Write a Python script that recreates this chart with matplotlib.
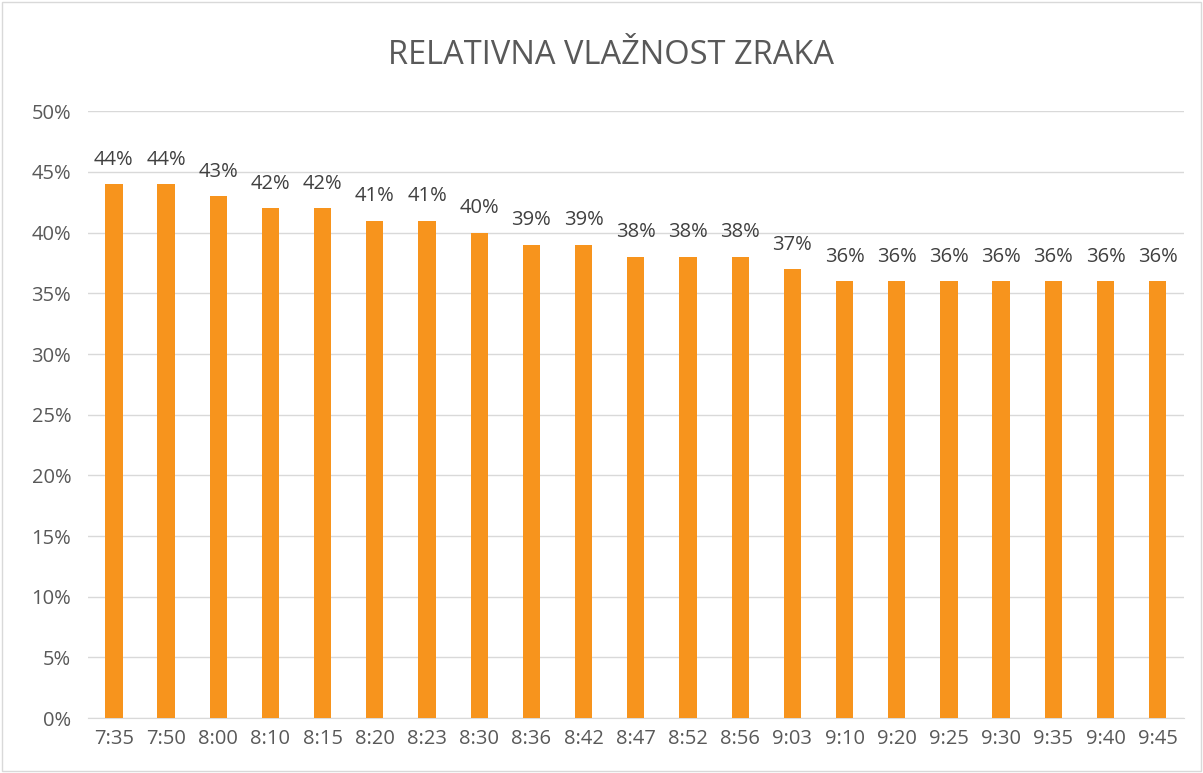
import matplotlib.pyplot as plt
from matplotlib.ticker import PercentFormatter
from matplotlib.patches import Rectangle

# podaci
times = ['7:35', '7:50', '8:00', '8:10', '8:15', '8:20', '8:23', '8:30', '8:36', '8:42', '8:47',
         '8:52', '8:56', '9:03', '9:10', '9:20', '9:25', '9:30', '9:35', '9:40', '9:45']
humidity = [44, 44, 43, 42, 42, 41, 41, 40, 39, 39, 38, 38, 38, 37, 36, 36, 36, 36, 36, 36, 36]

plt.rcParams['font.family'] = ['Open Sans', 'DejaVu Sans']
txt_color = '#595959'

fig = plt.figure(figsize=(12.03, 7.73), dpi=100)
ax = fig.add_axes([0.073, 0.071, 0.911, 0.785])

x = range(len(times))
bars = ax.bar(x, humidity, width=0.33, color='#F7941D', zorder=3)

for xi, v in zip(x, humidity):
    ax.text(xi, v + 1.2, f'{v}%', ha='center', va='bottom', fontsize=14.5, color='#404040')

ax.set_xlim(-0.5, len(times) - 0.5)
ax.set_ylim(0, 50)
ax.set_yticks(range(0, 51, 5))
ax.yaxis.set_major_formatter(PercentFormatter(decimals=0))
ax.set_xticks(list(x))
ax.set_xticklabels(times)
ax.tick_params(axis='both', labelsize=14.5, colors=txt_color, length=0)
ax.tick_params(axis='x', pad=8)
ax.tick_params(axis='y', pad=12)
ax.grid(axis='y', color='#D9D9D9', linewidth=1, zorder=0)
for s in ['top', 'right', 'left']:
    ax.spines[s].set_visible(False)
ax.spines['bottom'].set_color('#D9D9D9')

fig.text(0.508, 0.928, 'RELATIVNA VLAŽNOST ZRAKA', ha='center', va='center',
         fontsize=23.5, color=txt_color)

# okvir grafikona
fig.patches.append(Rectangle((0.002, 0.002), 0.996, 0.996, transform=fig.transFigure,
                             fill=False, edgecolor='#D9D9D9', linewidth=1))

fig.savefig('out.png', dpi=100)
